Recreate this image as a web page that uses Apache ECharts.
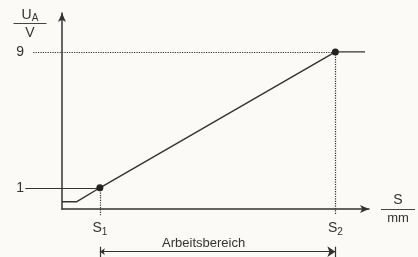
<!DOCTYPE html>
<html><head><meta charset="utf-8">
<script src="https://cdn.jsdelivr.net/npm/echarts@6/dist/echarts.min.js"></script>
<style>html,body{margin:0;padding:0;background:#fbfaf6}#c{width:418px;height:257px}</style>
</head><body><div id="c"></div>
<script>
// ---- data ----
const sValues = [0, 0.49, 1.25, 9.02, 10];      // S (arbitrary mm units)
const uValues = [0.18, 0.18, 1, 9, 9];          // U_A in V
const markedPoints = [2, 3];                    // indices of S1 and S2 points
const S1 = 1.25, S2 = 9.02;
const U1 = 1, U2 = 9;
const yTickValues = [1, 9];
const xTickValues = [S1, S2];
const xTickSubs = ['1', '2'];
const rangeLabel = 'Arbeitsbereich';

const ink = '#333333';
const font = 'Liberation Sans, Arial, Helvetica, sans-serif';

const chart = echarts.init(document.getElementById('c'), null, {renderer: 'canvas'});

const mainData = sValues.map((s, i) => ({
  value: [s, uValues[i]],
  symbol: markedPoints.indexOf(i) >= 0 ? 'circle' : 'none'
}));

const option = {
  backgroundColor: '#fbfaf6',
  animation: false,
  textStyle: {fontFamily: font},
  grid: {left: 62, right: 47, top: 13, bottom: 48},
  xAxis: {
    type: 'value', min: 0, max: 10.13,
    splitLine: {show: false},
    axisLine: {show: true, onZero: false, symbol: ['none', 'arrow'], symbolSize: [6, 9],
      lineStyle: {color: ink, width: 1.5}},
    axisTick: {show: false},
    axisLabel: {
      customValues: xTickValues, margin: 11,
      formatter: function (v) {
        const i = xTickValues.findIndex(t => Math.abs(t - v) < 1e-6);
        return '{s|S}{b|' + (i >= 0 ? xTickSubs[i] : '') + '}';
      },
      rich: {
        s: {fontSize: 14, color: ink, fontFamily: font},
        b: {fontSize: 10, color: ink, fontFamily: font, padding: [7, 0, 0, 0]}
      }
    },
    name: '{s|S}\n{l| }\n{m|mm}',
    nameLocation: 'end', nameGap: 29,
    nameTextStyle: {
      align: 'center', verticalAlign: 'middle',
      rich: {
        s: {fontSize: 14, color: ink, fontFamily: font, lineHeight: 14},
        l: {width: 34, height: 1, lineHeight: 5, backgroundColor: '#444'},
        m: {fontSize: 13, color: ink, fontFamily: font, lineHeight: 13}
      }
    }
  },
  yAxis: {
    type: 'value', min: -0.25, max: 11.29,
    splitLine: {show: false},
    axisLine: {show: true, onZero: false, symbol: ['none', 'arrow'], symbolSize: [6, 9],
      lineStyle: {color: ink, width: 1.5}},
    axisTick: {show: false},
    axisLabel: {customValues: yTickValues, margin: 38, fontSize: 14, color: ink, fontFamily: font},
    name: '{u|U}{a|A}\n{l| }\n{v|V}',
    nameLocation: 'end', nameGap: -12,
    nameTextStyle: {
      align: 'center', verticalAlign: 'middle', padding: [0, 64, 0, 0],
      rich: {
        u: {fontSize: 14, color: ink, fontFamily: font, lineHeight: 11},
        a: {fontSize: 10, color: ink, fontFamily: font, lineHeight: 11, padding: [5, 0, 0, 0]},
        l: {width: 33, height: 1, lineHeight: 5, backgroundColor: '#444'},
        v: {fontSize: 14, color: ink, fontFamily: font, lineHeight: 14}
      }
    }
  },
  series: [
    {
      type: 'lines', coordinateSystem: 'cartesian2d', clip: false, silent: true,
      lineStyle: {color: ink, width: 1.2, type: 'dotted', opacity: 1},
      data: [
        {coords: [[-0.95, U2], [S2, U2]]},
        {coords: [[S1, U1], [S1, -0.65]]},
        {coords: [[S2, U2], [S2, -0.6]]}
      ]
    },
    {
      type: 'lines', coordinateSystem: 'cartesian2d', clip: false, silent: true,
      lineStyle: {color: ink, width: 1.2, type: 'solid', opacity: 1},
      data: [
        {coords: [[-1.21, U1], [S1, U1]]},
        {coords: [[S1, -2.47], [S1, -3.3]]},
        {coords: [[S2, -2.47], [S2, -3.3]]}
      ]
    },
    {
      type: 'lines', coordinateSystem: 'cartesian2d', clip: false, silent: true,
      symbol: ['arrow', 'arrow'], symbolSize: [5, 8],
      lineStyle: {color: ink, width: 1.2, opacity: 1},
      label: {show: true, position: 'middle', distance: 2, offset: [-14, 0],
        formatter: rangeLabel, fontSize: 13, color: ink, fontFamily: font},
      data: [
        {coords: [[S1, -2.76], [S2, -2.76]]}
      ]
    },
    {
      type: 'line', clip: false,
      data: mainData,
      symbolSize: 7,
      itemStyle: {color: '#222'},
      lineStyle: {color: ink, width: 1.4}
    }
  ]
};
chart.setOption(option);
</script>
</body></html>
